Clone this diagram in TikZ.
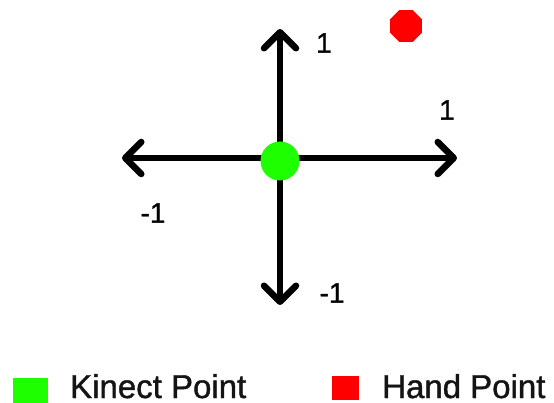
\documentclass[tikz,border=0pt]{standalone}
\usepackage{fontspec}
\setmainfont{Liberation Sans}
\newfontfamily\labelfont{Liberation Sans}[FakeBold=1.2]
\usetikzlibrary{arrows.meta,shapes.geometric}
\definecolor{kinectgreen}{RGB}{30,255,0}
\definecolor{handred}{RGB}{255,0,0}
\tikzset{
  axis/.style={line width=6.5pt, line cap=round, draw=black,
    -{Straight Barb[length=16pt,width=32pt,line cap=round,line join=round]}},
  ticklabel/.style={inner sep=0pt, font=\labelfont\fontsize{28}{28}\selectfont, text=black},
  legendtext/.style={inner sep=0pt, anchor=base west, font=\labelfont\fontsize{33}{33}\selectfont, text=black!92},
}
\begin{document}
\begin{tikzpicture}[x=1pt,y=-1pt]
  \useasboundingbox (0,0) rectangle (554,403);
  % axes through the origin
  \coordinate (o) at (280,158);
  \coordinate (xpos) at (457,158);
  \coordinate (xneg) at (122,158);
  \coordinate (ypos) at (280,29);
  \coordinate (yneg) at (280,305);
  \draw[axis] (o) -- (xpos);
  \draw[axis] (o) -- (xneg);
  \draw[axis] (o) -- (ypos);
  \draw[axis] (o) -- (yneg);
  % reference points
  \node[circle, fill=kinectgreen, minimum size=39pt, inner sep=0pt] (kinect) at (280,161) {};
  \node[regular polygon, regular polygon sides=8, fill=handred, minimum size=34.6pt, inner sep=0pt] (hand) at (406,26) {};
  % tick labels
  \node[ticklabel] (ytop) at (324,43) {1};
  \node[ticklabel] (xright) at (447,110) {1};
  \node[ticklabel] (xleft) at (153,213) {-1};
  \node[ticklabel] (ybot) at (332,293) {-1};
  % legend
  \fill[kinectgreen] (13,378) rectangle (48,403);
  \node[legendtext] (kinectlabel) at (70,398) {Kinect Point};
  \fill[handred] (332,376) rectangle (359,400);
  \node[legendtext] (handlabel) at (382,398) {Hand Point};
\end{tikzpicture}
\end{document}
